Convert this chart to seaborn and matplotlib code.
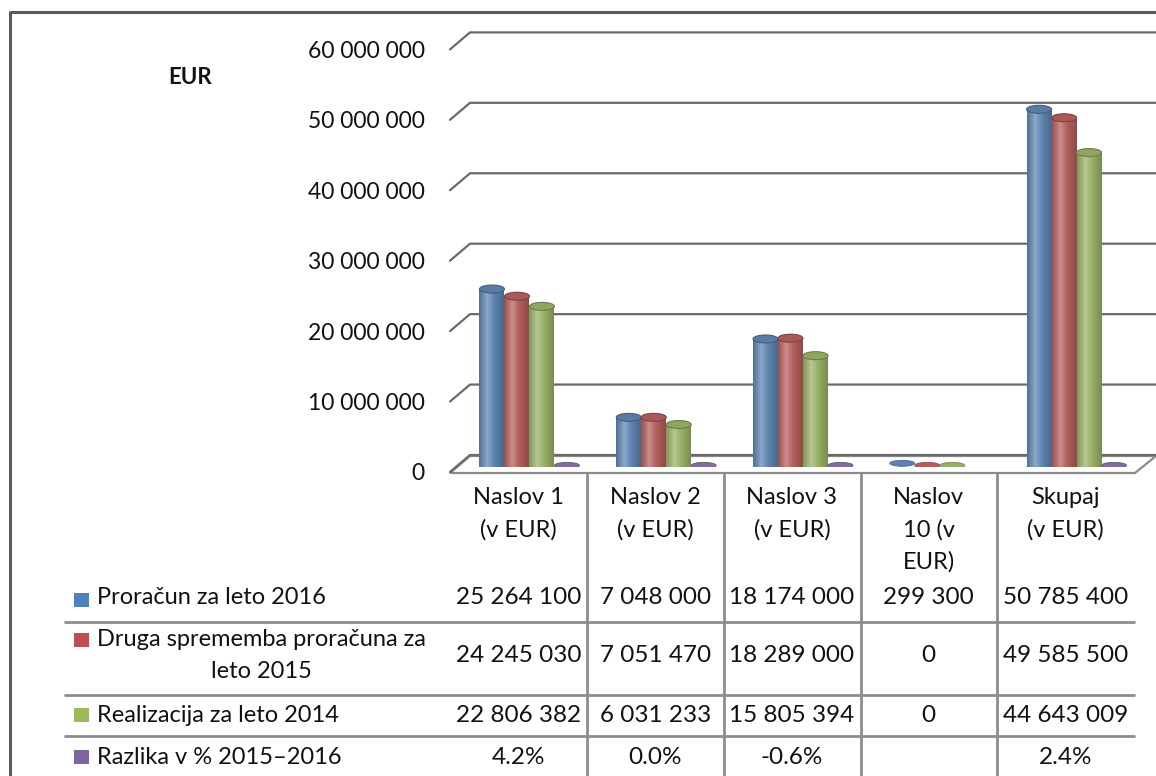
import numpy as np
import pandas as pd
import matplotlib
matplotlib.use("Agg")
import matplotlib.pyplot as plt
from matplotlib.patches import Ellipse, Rectangle, Polygon
from matplotlib.lines import Line2D
from matplotlib.colors import LinearSegmentedColormap, to_rgb
from matplotlib.transforms import ScaledTranslation
import seaborn as sns

# podatki
kategorije = ["Naslov 1", "Naslov 2", "Naslov 3", "Naslov 10", "Skupaj"]
glave = ["Naslov 1\n(v EUR)", "Naslov 2\n(v EUR)", "Naslov 3\n(v EUR)",
         "Naslov\n10 (v\nEUR)", "Skupaj\n(v EUR)"]
serije = ["Proračun za leto 2016", "Druga sprememba proračuna za\nleto 2015",
          "Realizacija za leto 2014", "Razlika v % 2015–2016"]
proracun_2016 = [25264100, 7048000, 18174000, 299300, 50785400]
sprememba_2015 = [24245030, 7051470, 18289000, 0, 49585500]
realizacija_2014 = [22806382, 6031233, 15805394, 0, 44643009]
razlika_pct = [4.2, 0.0, -0.6, np.nan, 2.4]
barve = ["#4F81BD", "#C0504D", "#9BBB59", "#8064A2"]
y_ticks = [0, 10000000, 20000000, 30000000, 40000000, 50000000, 60000000]

vrednosti = [proracun_2016, sprememba_2015, realizacija_2014, razlika_pct]
rows = []
for s, vals in zip(serije, vrednosti):
    for k, v in zip(kategorije, vals):
        rows.append({"kategorija": k, "serija": s, "vrednost": v})
df = pd.DataFrame(rows)


def fmt(v):
    return f"{int(v):,}".replace(",", " ")


def fmt_pct(v):
    return "" if np.isnan(v) else f"{v:.1f}%"


sns.set_style("white")
plt.rcParams["font.family"] = ["Lato", "DejaVu Sans"]

W, H = 1156, 776
fig = plt.figure(figsize=(W / 100, H / 100), dpi=100)
ax = fig.add_axes([450 / W, (H - 467) / H, 706 / W, 455 / H])
ax.set_zorder(2)

sns.barplot(data=df, x="kategorija", y="vrednost", hue="serija",
            order=kategorije, hue_order=serije, palette=barve,
            width=0.731, errorbar=None, legend=False, ax=ax,
            linewidth=0, zorder=3)

ymax = 64.6e6
ax.set_xlim(-0.581, 4.581)
ax.set_ylim(0, ymax)
ax.set_yticks(y_ticks, labels=[fmt(v) for v in y_ticks])
ax.tick_params(axis="y", length=0, pad=18, labelsize=16.5, labelcolor="#111111")
ax.set_xticks([])
ax.set_xlabel("")
ax.set_ylabel("")
for sp in ax.spines.values():
    sp.set_visible(False)
ax.patch.set_visible(False)
for lab in ax.get_yticklabels():
    lab.set_transform(lab.get_transform() + ScaledTranslation(0, -5 / 100, fig.dpi_scale_trans))

# valji namesto ravnih stolpcev
px_per_unit = 455 / ymax
cap_h = 8 / px_per_unit
for p in list(ax.patches):
    h = p.get_height()
    if np.isnan(h):
        continue
    x0, w = p.get_x(), p.get_width()
    xc = x0 + w / 2
    c = np.array(to_rgb(p.get_facecolor()))
    p.set_visible(False)
    cmap = LinearSegmentedColormap.from_list(
        "cyl", [(0, c * 0.86), (0.33, c + (1 - c) * 0.3), (0.62, c), (1, c * 0.8)])
    if abs(h) * px_per_unit < 3:
        ax.add_patch(Ellipse((xc, max(h, 0) + cap_h * 0.2), w, cap_h * 0.75,
                             facecolor=c, edgecolor=c * 0.8, lw=0.6, zorder=4))
        continue
    ax.add_patch(Ellipse((xc, 0), w, cap_h, facecolor=c * 0.85,
                         edgecolor="none", zorder=3))
    ax.imshow(np.linspace(0, 1, 64)[np.newaxis, :], extent=(x0, x0 + w, 0, h),
              cmap=cmap, aspect="auto", interpolation="bilinear", zorder=3.5)
    ax.add_patch(Ellipse((xc, h), w, cap_h, facecolor=c * 0.95,
                         edgecolor=c * 0.72, lw=0.8, zorder=4))
ax.set_xlim(-0.581, 4.581)
ax.set_ylim(0, ymax)


def fig_xy(xd, yd):
    return fig.transFigure.inverted().transform((xd, yd))


def fig_line(xs, ys, **kw):
    pts = [fig_xy(x, y) for x, y in zip(xs, ys)]
    fig.add_artist(Line2D([q[0] for q in pts], [q[1] for q in pts], **kw))


# mreža z zamikom za 3D videz
grid_col = "#6a6a6a"
for v in y_ticks:
    yd = ax.transData.transform((0, v))[1]
    fig_line([450, 470, W], [yd - 5, yd + 12, yd + 12], color=grid_col, lw=1.6,
             zorder=0.5)

y0 = ax.transData.transform((0, 0))[1]
floor = [fig_xy(450, y0 - 6), fig_xy(1135, y0 - 6), fig_xy(W, y0 + 11), fig_xy(470, y0 + 11)]
fig.add_artist(Polygon(floor, closed=True, facecolor="white", edgecolor="#8a8a8a",
                       lw=1.6, zorder=0.4))

# tabela
centers = [ax.transData.transform((i, 0))[0] - 11 for i in range(len(kategorije))]
half = 68.5
tcol = "#8c8c8c"
for cx in centers[:-1]:
    fig_line([cx + half, cx + half], [H - 473, 0], color=tcol, lw=2)
for yl in [622, 695, 736]:
    fig_line([65, centers[-1] + half], [H - yl, H - yl], color=tcol, lw=2)

fs = 17
for cx, g in zip(centers, glave):
    fig.text(cx / W, (H - 487) / H, g, ha="center", va="top", fontsize=fs,
             linespacing=1.62, color="#111111")

renderer = fig.canvas.get_renderer()
row_y = [598, 656, 715, 757]
sq_y = [600, 640, 715, 757]
for r, (s, vals) in enumerate(zip(serije, vrednosti)):
    lines = s.split("\n")
    if len(lines) == 1:
        fig.text(97 / W, (H - row_y[r]) / H, s, ha="left", va="center",
                 fontsize=fs, color="#111111")
    else:
        t1 = fig.text(97 / W, (H - sq_y[r]) / H, lines[0], ha="left", va="center",
                      fontsize=fs, color="#111111")
        bb = t1.get_window_extent(renderer)
        mid = (bb.x0 + bb.x1) / 2
        fig.text(mid / W, (H - sq_y[r] - 32) / H, lines[1], ha="center",
                 va="center", fontsize=fs, color="#111111")
    fig.add_artist(Rectangle((74 / W, (H - sq_y[r] - 7) / H), 15 / W, 14 / H,
                             transform=fig.transFigure, facecolor=barve[r],
                             edgecolor="none"))
    for cx, v in zip(centers, vals):
        txt = fmt_pct(v) if r == 3 else fmt(v)
        fig.text(cx / W, (H - row_y[r]) / H, txt, ha="center", va="center",
                 fontsize=fs + 0.5, color="#111111")

fig.text(190 / W, (H - 77) / H, "EUR", ha="center", va="center", fontsize=16,
         fontweight="bold", color="#111111")

# okvir
fig_line([10, 10, W], [0, H - 12, H - 12], color="#5a5a5a", lw=2.2)

fig.savefig("out.png", dpi=100)
